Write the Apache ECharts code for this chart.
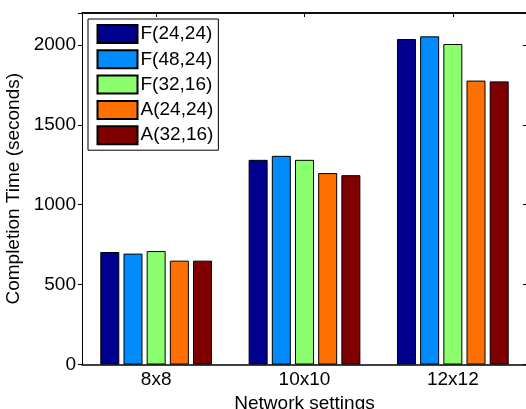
<!DOCTYPE html>
<html>
<head>
<meta charset="utf-8">
<script src="https://cdn.jsdelivr.net/npm/echarts@6/dist/echarts.min.js"></script>
<style>
  html, body { margin: 0; padding: 0; background: #fff; }
  #main { width: 526px; height: 409px; }
</style>
</head>
<body>
<div id="main"></div>
<script>
// data
var categories = ['8x8', '10x10', '12x12'];
var seriesNames = ['F(24,24)', 'F(48,24)', 'F(32,16)', 'A(24,24)', 'A(32,16)'];
var f2424 = [704, 1281, 2037];
var f4824 = [694, 1306, 2054];
var f3216 = [710, 1281, 2006];
var a2424 = [650, 1198, 1777];
var a3216 = [650, 1185, 1772];
var yTicks = [0, 500, 1000, 1500, 2000];

var colors = ['#00008f', '#008cff', '#8cff6e', '#ff7000', '#800000'];
var values = [f2424, f4824, f3216, a2424, a3216];
var font = 'Liberation Sans, Helvetica, Arial, sans-serif';
var fs = 19;

var myChart = echarts.init(document.getElementById('main'));

var series = [];
for (let i = 0; i < seriesNames.length; i++) {
    series.push({
        name: seriesNames[i],
        type: 'bar',
        data: values[i],
        barWidth: 19,
        barGap: '22%',
        itemStyle: {
            color: colors[i],
            borderColor: '#000',
            borderWidth: 1
        },
        emphasis: { disabled: true }
    });
}

var option = {
    animation: false,
    backgroundColor: '#fff',
    grid: {
        left: 82,
        top: 13,
        width: 445,
        bottom: 44.5,
        outerBoundsMode: 'none',
        containLabel: false
    },
    legend: {
        orient: 'vertical',
        left: 88,
        top: 19,
        itemWidth: 40,
        itemHeight: 18,
        itemGap: 5.3,
        padding: [5, 5, 5, 8.5],
        backgroundColor: '#fff',
        borderColor: '#000',
        borderWidth: 1,
        icon: 'rect',
        textStyle: { fontFamily: font, fontSize: fs, color: '#000', padding: [0, 0, 0, -2] },
        data: seriesNames
    },
    xAxis: [{
        type: 'category',
        data: categories,
        name: 'Network settings',
        nameLocation: 'middle',
        nameGap: 28,
        nameTextStyle: { fontFamily: font, fontSize: fs, color: '#000' },
        axisLine: { lineStyle: { color: '#000', width: 1.5 } },
        axisTick: { alignWithLabel: true, inside: true, length: 5, lineStyle: { color: '#000' } },
        axisLabel: { fontFamily: font, fontSize: fs, color: '#000', margin: 6 }
    }, {
        type: 'category',
        data: categories,
        position: 'top',
        axisLine: { show: true, onZero: false, lineStyle: { color: '#000', width: 1.5 } },
        axisTick: { show: true, alignWithLabel: true, inside: true, length: 4, lineStyle: { color: '#000' } },
        axisLabel: { show: false }
    }],
    yAxis: [{
        type: 'value',
        min: 0,
        max: 2200,
        interval: 500,
        name: 'Completion Time (seconds)',
        nameLocation: 'middle',
        nameGap: 55,
        nameTextStyle: { fontFamily: font, fontSize: fs, color: '#000' },
        splitLine: { show: false },
        axisLine: { show: true, onZero: false, lineStyle: { color: '#000', width: 1 } },
        axisTick: { show: true, length: 4, lineStyle: { color: '#000' } },
        axisLabel: {
            fontFamily: font, fontSize: fs, color: '#000', margin: 6,
            formatter: function(v) { return yTicks.indexOf(v) >= 0 ? String(v) : ''; }
        }
    }, {
        type: 'value',
        min: 0,
        max: 2200,
        interval: 500,
        position: 'right',
        splitLine: { show: false },
        axisLine: { show: true, onZero: false, lineStyle: { color: '#000', width: 1 } },
        axisTick: { show: true, inside: true, length: 4, lineStyle: { color: '#000' } },
        axisLabel: { show: false }
    }, {
        // frame only: its split line at max draws the top border
        type: 'value',
        min: 0,
        max: 2200,
        interval: 2200,
        position: 'right',
        axisLine: { show: false },
        axisTick: { show: false },
        axisLabel: { show: false },
        splitLine: { show: true, showMinLine: false, showMaxLine: true, lineStyle: { color: '#000', width: 1.5 } }
    }],
    series: series.concat([{
        type: 'bar',
        xAxisIndex: 1,
        yAxisIndex: 2,
        data: [],
        silent: true
    }])
};

myChart.setOption(option);
</script>
</body>
</html>
